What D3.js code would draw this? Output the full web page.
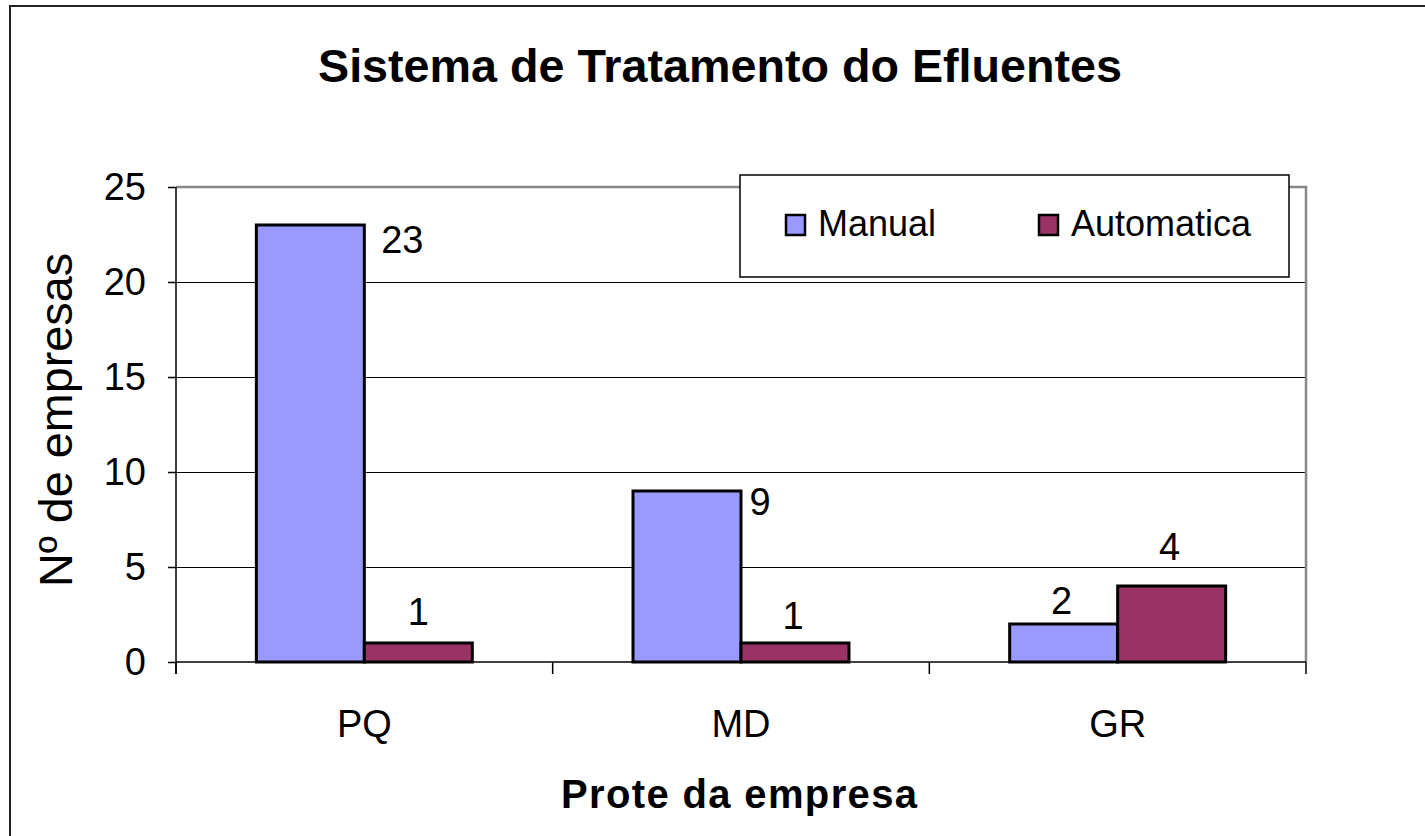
<!DOCTYPE html>
<html>
<head>
<meta charset="utf-8">
<script src="https://cdn.jsdelivr.net/npm/d3@7"></script>
<style>
  body { margin: 0; background: #fff; }
  text { font-family: "Liberation Sans", Arial, sans-serif; fill: #000; }
</style>
</head>
<body>
<svg id="chart" width="1425" height="836"></svg>
<script>
const width = 1425;
const height = 836;

// Data
const categories = ["PQ", "MD", "GR"];
const seriesNames = ["Manual", "Automatica"];
const manual = [23, 9, 2];
const automatica = [1, 1, 4];
const yTicks = [0, 5, 10, 15, 20, 25];
const colors = ["#9999FF", "#993366"];
// hand-moved data labels (dx, dy in px from the default spot)
const labelNudge = [
  [[92, 42], [73, 38], [-2, 4]],
  [[0, -4], [-2, 0], [-2, -12]]
];

const plot = { left: 176, right: 1306, top: 187, bottom: 662 };

const svg = d3.select("#chart");

// Outer chart border (right and bottom run past the window)
svg.append("rect")
  .attr("x", 10).attr("y", 6)
  .attr("width", 1500).attr("height", 900)
  .attr("fill", "none").attr("stroke", "#222").attr("stroke-width", 2);

// Scales
const x0 = d3.scaleBand().domain(categories).range([plot.left, plot.right]);
const x1 = d3.scaleBand().domain(seriesNames).range([0, x0.bandwidth()]).paddingOuter(0.744);
const y = d3.scaleLinear().domain([0, 25]).range([plot.bottom, plot.top]);

// Gridlines
svg.append("g")
  .selectAll("line")
  .data(yTicks.filter(d => d > 0 && d < 25))
  .join("line")
  .attr("x1", plot.left).attr("x2", plot.right)
  .attr("y1", d => y(d) + 0.5).attr("y2", d => y(d) + 0.5)
  .attr("stroke", "#000").attr("stroke-width", 1);

// Plot area top and right border (grey)
svg.append("path")
  .attr("d", `M${plot.left},${y(25)}H${plot.right}V${plot.bottom}`)
  .attr("fill", "none").attr("stroke", "#888").attr("stroke-width", 2.5);

// Bars
const series = [manual, automatica];
const groups = svg.append("g")
  .selectAll("g")
  .data(series)
  .join("g")
  .attr("fill", (d, i) => colors[i]);

groups.selectAll("rect")
  .data((vals, si) => vals.map((v, ci) => ({ v, ci, si })))
  .join("rect")
  .attr("x", d => x0(categories[d.ci]) + x1(seriesNames[d.si]))
  .attr("y", d => y(d.v))
  .attr("width", x1.bandwidth())
  .attr("height", d => y(0) - y(d.v))
  .attr("stroke", "#000").attr("stroke-width", 3);

// X axis
const xAxis = svg.append("g")
  .attr("transform", `translate(0,${plot.bottom})`);
xAxis.append("line")
  .attr("x1", plot.left).attr("x2", plot.right)
  .attr("stroke", "#000").attr("stroke-width", 1.5);
xAxis.selectAll(".tick")
  .data(categories.map(c => x0(c)).concat([plot.right]))
  .join("line")
  .attr("x1", d => d).attr("x2", d => d)
  .attr("y1", 0).attr("y2", 12)
  .attr("stroke", "#000").attr("stroke-width", 1.5);
xAxis.selectAll("text")
  .data(categories)
  .join("text")
  .attr("x", d => x0(d) + x0.bandwidth() / 2)
  .attr("y", 75)
  .attr("text-anchor", "middle")
  .attr("font-size", 38)
  .text(d => d);

// Y axis
const yAxis = svg.append("g")
  .attr("transform", `translate(${plot.left},0)`)
  .call(d3.axisLeft(y).tickValues(yTicks).tickSize(8).tickPadding(22));
yAxis.select(".domain").remove();
yAxis.append("line")
  .attr("y1", plot.top).attr("y2", plot.bottom + 12)
  .attr("stroke", "#000").attr("stroke-width", 1.5);
yAxis.selectAll(".tick line").attr("stroke", "#000").attr("stroke-width", 1.5);
yAxis.selectAll(".tick text")
  .attr("font-family", "Liberation Sans, Arial, sans-serif")
  .attr("font-size", 38)
  .attr("fill", "#000");

// Data labels
groups.selectAll("text.lbl")
  .data((vals, si) => vals.map((v, ci) => ({ v, ci, si })))
  .join("text")
  .attr("class", "lbl")
  .attr("x", d => x0(categories[d.ci]) + x1(seriesNames[d.si]) + x1.bandwidth() / 2 + labelNudge[d.si][d.ci][0])
  .attr("y", d => y(d.v) - 14 + labelNudge[d.si][d.ci][1])
  .attr("text-anchor", "middle")
  .attr("font-size", 38)
  .style("fill", "#000")
  .text(d => d.v);

// Title
svg.append("text")
  .attr("x", 720).attr("y", 82)
  .attr("text-anchor", "middle")
  .attr("font-size", 47).attr("font-weight", "bold")
  .attr("textLength", 804).attr("lengthAdjust", "spacingAndGlyphs")
  .text("Sistema de Tratamento do Efluentes");

// Axis titles
svg.append("text")
  .attr("transform", `translate(72,${(253 + 587) / 2}) rotate(-90)`)
  .attr("text-anchor", "middle")
  .attr("font-size", 46)
  .attr("textLength", 334).attr("lengthAdjust", "spacingAndGlyphs")
  .text("Nº de empresas");

svg.append("text")
  .attr("x", 739).attr("y", 808)
  .attr("text-anchor", "middle")
  .attr("font-size", 40).attr("font-weight", "bold")
  .attr("textLength", 356).attr("lengthAdjust", "spacing")
  .text("Prote da empresa");

// Legend
const legend = svg.append("g");
legend.append("rect")
  .attr("x", 740).attr("y", 175)
  .attr("width", 549).attr("height", 102)
  .attr("fill", "#fff").attr("stroke", "#000").attr("stroke-width", 1.5);

const legendX = [786, 1039];
const items = legend.selectAll("g.item")
  .data(seriesNames)
  .join("g")
  .attr("class", "item")
  .attr("transform", (d, i) => `translate(${legendX[i]},215)`);
items.append("rect")
  .attr("width", 19).attr("height", 20)
  .attr("fill", (d, i) => colors[i])
  .attr("stroke", "#000").attr("stroke-width", 2.5);
items.append("text")
  .attr("x", 32).attr("y", 21)
  .attr("font-size", 36)
  .text(d => d);
</script>
</body>
</html>
